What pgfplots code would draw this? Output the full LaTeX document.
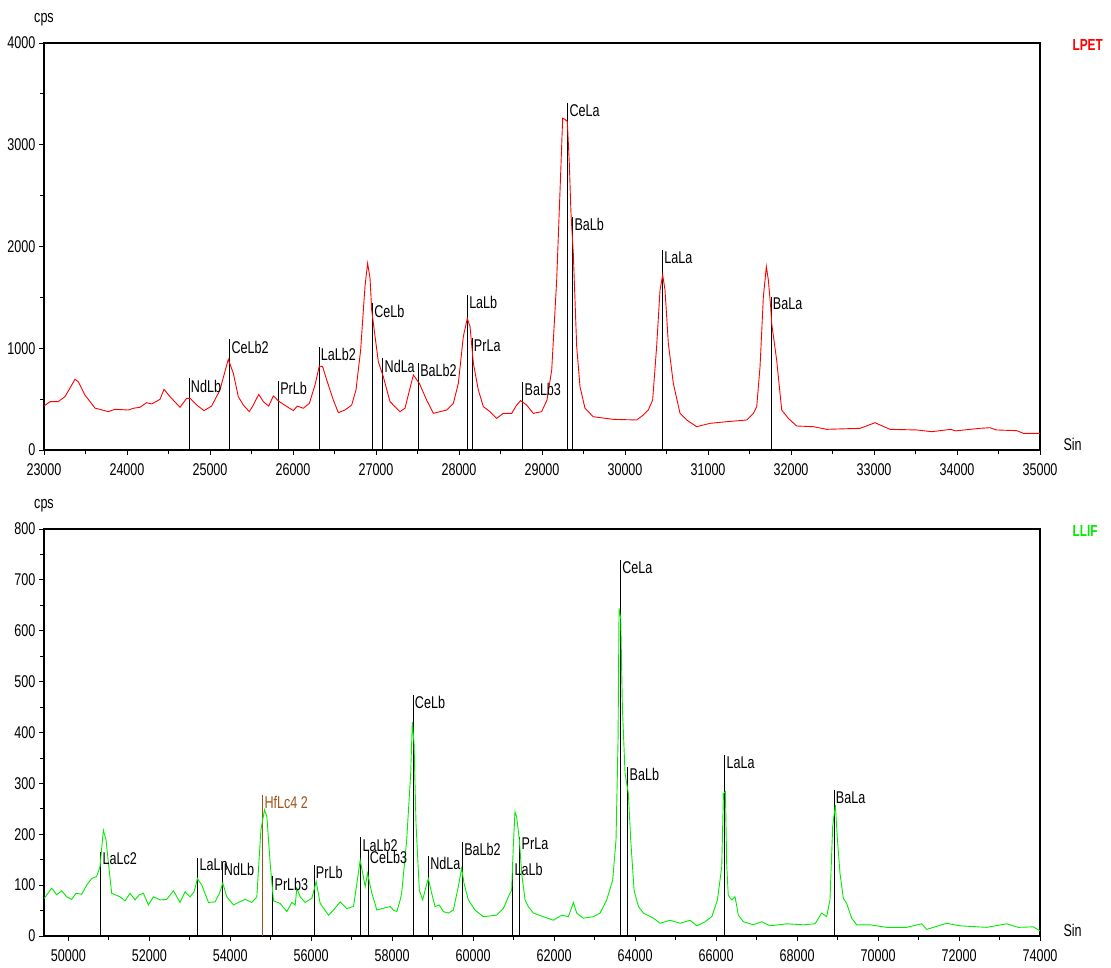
\documentclass[border=0pt]{standalone}
\usepackage{fontspec}
\setmainfont{Liberation Sans}[FakeStretch=0.74]
\usepackage{pgfplots}
\pgfplotsset{compat=1.18}
\definecolor{hfbrown}{RGB}{160,82,20}
\definecolor{cgreen}{RGB}{0,235,0}
\newcommand{\lblfont}{\fontsize{17}{19}\selectfont}
\pgfplotsset{
  spec/.style={
    scale only axis, width=996pt, height=407pt, anchor=south west,
    axis line style={line width=1.1pt},
    tick style={black, line width=0.8pt},
    tick align=outside, major tick length=5pt, minor tick length=4pt,
    xtick pos=bottom, ytick pos=left,
    scaled ticks=false,
    /pgf/number format/1000 sep={},
    /pgf/number format/assume math mode=true,
    tick label style={font=\lblfont},
    xticklabel style={yshift=-5pt},
    clip=false,
  },
  markers/.style={black, ycomb, line width=0.9pt, point meta=explicit symbolic,
    nodes near coords,
    nodes near coords style={anchor=north west, font=\lblfont, inner sep=1pt, xshift=0.5pt, text=black}},
}
\begin{document}
\begin{tikzpicture}
\useasboundingbox (0,0) rectangle (1111pt,967pt);
% ---------------- top: LPET ----------------
\begin{axis}[spec, at={(44pt,517pt)},
  xmin=23000, xmax=35000, ymin=0, ymax=4000,
  xtick={23000,24000,...,35000}, minor x tick num=1,
  ytick={0,1000,...,4000}, minor y tick num=1]
\addplot[markers] coordinates {
(24747,704) [NdLb]
(25237,1088) [CeLb2]
(25823,680) [PrLb]
(26313,1015) [LaLb2]
(26956,1442) [CeLb]
(27081,901) [NdLa]
(27510,858) [BaLb2]
(28100,1524) [LaLb]
(28157,1098) [PrLa]
(28767,671) [BaLb3]
(29309,3408) [CeLa]
(29369,2293) [BaLb]
(30450,1966) [LaLa]
(31759,1507) [BaLa]
};
\addplot[red, line width=0.9pt] coordinates {
(23000,432)(23072,475)(23170,475)(23253,524)(23313,609)(23373,695)(23413,671)
(23494,540)(23614,412)(23775,377)(23855,400)(24016,393)(24076,410)(24157,420)
(24237,465)(24297,452)(24398,498)(24446,596)(24518,524)(24639,419)(24719,508)
(24759,508)(24840,442)(24928,387)(25020,432)(25120,590)(25220,891)(25281,754)
(25341,524)(25401,442)(25474,377)(25522,442)(25587,547)(25643,475)(25707,432)
(25763,531)(25835,475)(25916,432)(26004,387)(26052,432)(26124,410)(26197,458)
(26265,639)(26317,825)(26357,819)(26406,688)(26486,491)(26546,367)(26626,393)
(26707,442)(26759,590)(26815,983)(26867,1605)(26899,1835)(26928,1688)(26948,1376)
(26976,1196)(27028,868)(27088,720)(27169,475)(27289,377)(27349,410)(27450,737)
(27522,655)(27610,491)(27691,360)(27852,393)(27932,458)(27992,655)(28052,1114)
(28100,1294)(28133,1212)(28173,852)(28233,590)(28293,426)(28373,377)(28454,311)
(28534,360)(28635,360)(28695,442)(28743,485)(28815,442)(28895,360)(28996,377)
(29060,491)(29117,786)(29177,1671)(29225,2720)(29249,3260)(29276,3250)(29305,3227)
(29329,2818)(29349,2326)(29377,1933)(29418,1015)(29458,622)(29518,410)(29618,327)
(29859,301)(30140,295)(30221,344)(30281,393)(30333,491)(30381,1015)(30422,1573)
(30454,1720)(30482,1573)(30522,1048)(30582,655)(30663,360)(30743,295)(30863,229)
(31024,262)(31225,278)(31466,295)(31546,360)(31587,426)(31627,819)(31667,1507)
(31703,1802)(31727,1671)(31755,1409)(31767,1245)(31827,885)(31888,393)(31968,311)
(32068,236)(32269,229)(32430,203)(32831,213)(33012,268)(33193,203)(33514,197)
(33695,180)(33924,203)(33983,188)(34277,213)(34398,219)(34475,197)(34719,190)
(34799,164)(35000,164)
};
\node[font=\lblfont] at (rel axis cs:0,1) [yshift=23pt] {cps};
\node[font=\lblfont, anchor=west] at (rel axis cs:1,0) [xshift=20pt, yshift=6pt] {Sin};
\node[font=\fontsize{16}{18}\selectfont\bfseries, text=red, anchor=west] at (rel axis cs:1,1) [xshift=29pt, yshift=-2pt] {LPET};
\end{axis}
% ---------------- bottom: LLIF ----------------
\begin{axis}[spec, at={(44pt,31pt)},
  xmin=49400, xmax=74000, ymin=0, ymax=800,
  xtick={50000,52000,...,74000}, minor x tick num=1,
  ytick={0,100,...,800}, minor y tick num=1]
\addplot[markers] coordinates {
(50800,166) [LaLc2]
(53196,154) [LaLn]
(53797,146) [NdLb]
(55048,117) [PrLb3]
(56069,140) [PrLb]
(57222,194) [LaLb2]
(57403,170) [CeLb3]
(58514,474) [CeLb]
(58893,157) [NdLa]
(59732,185) [BaLb2]
(60977,146) [LaLb]
(61150,195) [PrLa]
(63634,739) [CeLa]
(63816,333) [BaLb]
(66212,356) [LaLa]
(68912,287) [BaLa]
};
\addplot[markers, hfbrown, nodes near coords style={text=hfbrown}] coordinates {
(54801,278) [HfLc4 2]
};
\addplot[cgreen, line width=0.9pt] coordinates {
(49408,74)(49507,85)(49590,94)(49713,81)(49837,89)(49960,77)(50084,72)(50191,84)
(50331,82)(50454,100)(50578,113)(50701,117)(50783,136)(50866,208)(50932,189)(50990,144)
(51072,84)(51278,77)(51402,69)(51525,84)(51649,71)(51756,81)(51855,84)(51979,61)
(52102,77)(52267,71)(52432,72)(52597,89)(52761,66)(52885,87)(53008,77)(53107,87)
(53190,113)(53297,100)(53462,66)(53626,67)(53734,84)(53816,104)(53915,77)(54080,61)
(54204,66)(54368,72)(54533,66)(54657,77)(54756,208)(54846,248)(54904,235)(54986,143)
(55069,69)(55233,64)(55398,48)(55521,66)(55604,61)(55645,94)(55727,77)(55851,66)
(56015,74)(56122,107)(56221,64)(56427,41)(56551,51)(56715,67)(56880,54)(57045,58)
(57210,149)(57333,97)(57391,123)(57498,84)(57621,51)(57800,55)(57950,58)(58028,51)
(58115,48)(58197,71)(58234,84)(58358,189)(58457,320)(58497,421)(58539,379)(58588,221)
(58670,90)(58753,71)(58835,97)(58893,113)(58975,84)(59057,58)(59164,61)(59263,48)
(59386,45)(59510,51)(59633,97)(59715,133)(59773,104)(59880,71)(60045,51)(60251,38)
(60580,41)(60745,54)(60868,77)(60950,90)(60991,176)(61033,244)(61074,234)(61140,189)
(61199,123)(61281,71)(61363,58)(61487,45)(61734,38)(61981,31)(62187,41)(62351,38)
(62475,66)(62557,45)(62722,35)(62969,38)(63134,45)(63298,71)(63446,110)(63528,189)
(63578,385)(63603,644)(63644,624)(63685,451)(63751,320)(63833,280)(63891,189)(63974,90)
(64081,58)(64205,45)(64452,35)(64617,25)(64864,31)(65111,25)(65358,31)(65523,20)
(65729,28)(65894,38)(66033,71)(66139,136)(66181,280)(66230,284)(66262,140)(66300,80)
(66386,71)(66468,77)(66550,41)(66673,28)(66920,22)(67126,28)(67332,20)(67744,24)
(68155,22)(68443,24)(68607,45)(68731,38)(68813,71)(68879,215)(68945,257)(68994,193)
(69060,123)(69143,74)(69225,64)(69349,35)(69472,22)(69801,22)(70213,17)(70707,17)
(71077,24)(71201,13)(71695,25)(72025,20)(72683,17)(73177,24)(73464,17)(73835,18)
(74000,10)
};
\node[font=\lblfont] at (rel axis cs:0,1) [yshift=23pt] {cps};
\node[font=\lblfont, anchor=west] at (rel axis cs:1,0) [xshift=20pt, yshift=6pt] {Sin};
\node[font=\fontsize{16}{18}\selectfont\bfseries, text=cgreen, anchor=west] at (rel axis cs:1,1) [xshift=29pt, yshift=-2pt] {LLIF};
\end{axis}
\end{tikzpicture}
\end{document}
